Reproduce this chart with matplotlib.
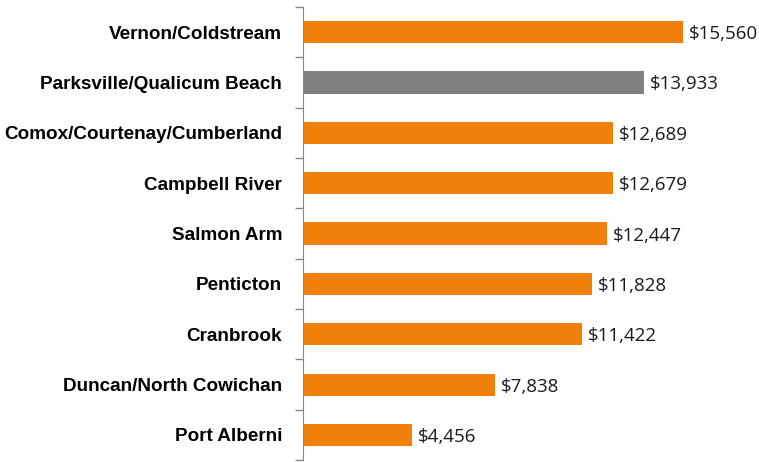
import numpy as np
import matplotlib.pyplot as plt

cities = ["Vernon/Coldstream", "Parksville/Qualicum Beach", "Comox/Courtenay/Cumberland",
          "Campbell River", "Salmon Arm", "Penticton", "Cranbrook",
          "Duncan/North Cowichan", "Port Alberni"]
values = [15560, 13933, 12689, 12679, 12447, 11828, 11422, 7838, 4456]
highlight = "Parksville/Qualicum Beach"

orange = "#F0800A"
grey = "#808080"

fig = plt.figure(figsize=(7.59, 4.62), dpi=100)
ax = fig.add_axes([0.399, 0.004, 0.58, 0.981])

y = np.arange(len(cities))
colors = [grey if c == highlight else orange for c in cities]
ax.barh(y, values, height=0.44, color=colors)

for yi, v in zip(y, values):
    ax.text(v + 240, yi + 0.04, "${:,}".format(v), va="center", ha="left",
            fontsize=13.5, family=["Open Sans", "DejaVu Sans"], color="#1a1a1a")

ax.set_ylim(len(cities) - 0.5, -0.5)
ax.set_xlim(0, 18000)
ax.set_yticks(y)
ax.set_yticklabels(cities, fontsize=13.6, fontweight="bold", family=["Liberation Sans", "DejaVu Sans"])
ax.tick_params(axis="y", length=0, pad=15)
ax.set_yticks(np.arange(-0.5, len(cities), 1), minor=True)
ax.tick_params(axis="y", which="minor", length=6, color="#868686", width=1)
ax.set_xticks([])

for s in ["top", "right", "bottom"]:
    ax.spines[s].set_visible(False)
ax.spines["left"].set_color("#868686")

fig.savefig("out.png", dpi=100)
